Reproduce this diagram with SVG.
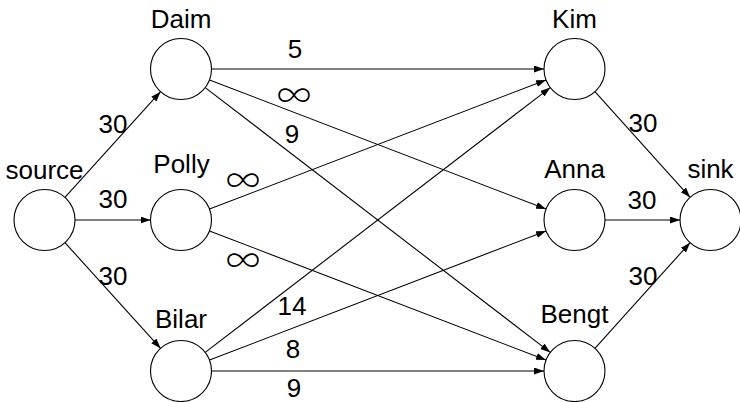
<svg xmlns="http://www.w3.org/2000/svg" width="740" height="402" viewBox="0 0 740 402">
<style>
.n{fill:#fff;stroke:#000;stroke-width:1.1}
.e{stroke:#000;stroke-width:1.1;fill:none;marker-end:url(#ah)}
text{font-family:"Liberation Sans",Arial,sans-serif;font-size:26px;fill:#000;text-anchor:middle}
text.inf{font-family:"Noto Sans CJK JP","DejaVu Sans",sans-serif;font-size:34px;font-weight:300}
</style>
<defs>
<marker id="ah" markerUnits="userSpaceOnUse" markerWidth="11" markerHeight="8" refX="10" refY="3.5" orient="auto">
<path d="M0,0 L10,3.5 L0,7 Z" fill="#000"/>
</marker>
</defs>
<rect width="740" height="402" fill="#fff"/>
<g id="connectors">
<line class="e" x1="64.95" y1="197.37" x2="160.55" y2="91.63"/>
<line class="e" x1="75" y1="220" x2="150.5" y2="220"/>
<line class="e" x1="64.95" y1="242.63" x2="160.55" y2="348.37"/>
<line class="e" x1="211.5" y1="69" x2="544" y2="69"/>
<line class="e" x1="209.48" y1="79.93" x2="546.02" y2="209.07"/>
<line class="e" x1="205.2" y1="87.57" x2="550.3" y2="352.43"/>
<line class="e" x1="209.48" y1="209.07" x2="546.02" y2="79.93"/>
<line class="e" x1="209.48" y1="230.93" x2="546.02" y2="360.07"/>
<line class="e" x1="205.2" y1="352.43" x2="550.3" y2="87.57"/>
<line class="e" x1="209.48" y1="360.07" x2="546.02" y2="230.93"/>
<line class="e" x1="211.5" y1="371" x2="544" y2="371"/>
<line class="e" x1="594.91" y1="91.66" x2="690.09" y2="197.34"/>
<line class="e" x1="605" y1="220" x2="680" y2="220"/>
<line class="e" x1="594.91" y1="348.34" x2="690.09" y2="242.66"/>
<text x="113" y="133">30</text>
<text x="113" y="208">30</text>
<text x="113" y="285">30</text>
<text x="295" y="58">5</text>
<text class="inf" x="294" y="108">∞</text>
<text x="292" y="143">9</text>
<text class="inf" x="243" y="193">∞</text>
<text class="inf" x="243" y="273">∞</text>
<text x="292" y="315">14</text>
<text x="293" y="358">8</text>
<text x="294" y="397">9</text>
<text x="643" y="132">30</text>
<text x="642" y="209">30</text>
<text x="643" y="285">30</text>
</g>
<g id="source"><circle class="n" cx="44.5" cy="220" r="30.5"/><text x="44.5" y="179">source</text></g>
<g id="Daim"><circle class="n" cx="181" cy="69" r="30.5"/><text x="181" y="28">Daim</text></g>
<g id="Polly"><circle class="n" cx="181" cy="220" r="30.5"/><text x="181.5" y="173">Polly</text></g>
<g id="Bilar"><circle class="n" cx="181" cy="371" r="30.5"/><text x="181" y="328">Bilar</text></g>
<g id="Kim"><circle class="n" cx="574.5" cy="69" r="30.5"/><text x="574.5" y="28">Kim</text></g>
<g id="Anna"><circle class="n" cx="574.5" cy="220" r="30.5"/><text x="574.5" y="178">Anna</text></g>
<g id="Bengt"><circle class="n" cx="574.5" cy="371" r="30.5"/><text x="574.5" y="323">Bengt</text></g>
<g id="sink"><circle class="n" cx="710.5" cy="220" r="30.5"/><text x="710.5" y="178">sink</text></g>
</svg>
